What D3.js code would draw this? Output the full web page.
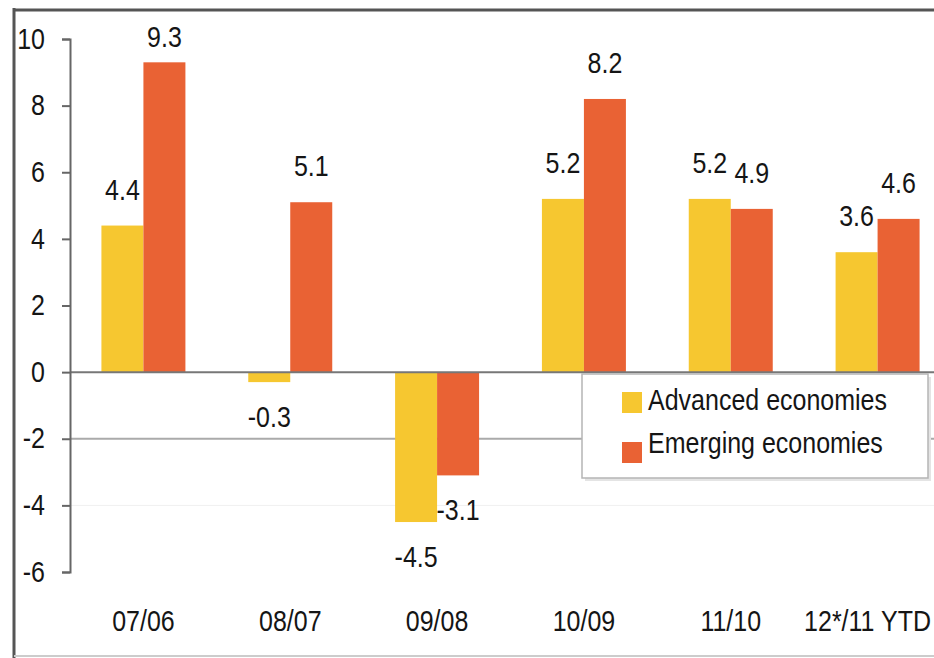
<!DOCTYPE html>
<html>
<head>
<meta charset="utf-8">
<script src="https://cdn.jsdelivr.net/npm/d3@7"></script>
<style>
  body { margin: 0; background: #fff; }
  svg { display: block; font-family: "Liberation Sans", Arial, sans-serif; }
</style>
</head>
<body>
<svg width="934" height="658"></svg>
<script>
// data
var categories = ["07/06", "08/07", "09/08", "10/09", "11/10", "12*/11 YTD"];
var seriesNames = ["Advanced economies", "Emerging economies"];
var advanced = [4.4, -0.3, -4.5, 5.2, 5.2, 3.6];
var emerging = [9.3, 5.1, -3.1, 8.2, 4.9, 4.6];
var yTicks = [-6, -4, -2, 0, 2, 4, 6, 8, 10];

var colors = ["#f6c730", "#e96234"];
var stretch = 1.15; // text in the source is a bit taller than wide

var svg = d3.select("svg"),
    width = +svg.attr("width"),
    height = +svg.attr("height");

var x = d3.scaleBand()
    .domain(categories)
    .range([70, 951])
    .paddingInner(0.428)
    .paddingOuter(0.214);

var x1 = d3.scaleBand()
    .domain(seriesNames)
    .range([0, x.bandwidth()]);

var y = d3.scaleLinear()
    .domain([-6, 10])
    .range([572, 39]);

function label(g, txt, px, py, anchor) {
    return g.append("text")
        .attr("transform", "translate(" + px + "," + py + ") scale(1," + stretch + ")")
        .attr("text-anchor", anchor || "middle")
        .style("font-size", "25px")
        .style("fill", "#151515")
        .text(txt);
}

// frame
svg.append("line").attr("x1", 14).attr("x2", 14).attr("y1", 8).attr("y2", height)
    .style("stroke", "#555").style("stroke-width", 3);
svg.append("line").attr("x1", 13).attr("x2", width).attr("y1", 10).attr("y2", 10)
    .style("stroke", "#555").style("stroke-width", 3);
svg.append("line").attr("x1", 14).attr("x2", width).attr("y1", 656).attr("y2", 656)
    .style("stroke", "#ccc").style("stroke-width", 2);

// grid lines
svg.append("line").attr("x1", 70).attr("x2", width).attr("y1", y(-2)).attr("y2", y(-2))
    .style("stroke", "#aaa").style("stroke-width", 2);
svg.append("line").attr("x1", 70).attr("x2", width).attr("y1", y(-4)).attr("y2", y(-4))
    .style("stroke", "#f0f0f0").style("stroke-width", 1);

// bars
var rows = categories.map(function(c, i) {
    return { cat: c, vals: [advanced[i], emerging[i]] };
});

var groups = svg.append("g").selectAll("g")
    .data(rows)
    .enter().append("g")
    .attr("transform", (d) => "translate(" + x(d.cat) + ",0)");

groups.selectAll("rect")
    .data((d) => d.vals.map((v, k) => ({ key: seriesNames[k], v: v, k: k })))
    .enter().append("rect")
    .attr("x", (d) => x1(d.key))
    .attr("width", x1.bandwidth())
    .attr("y", (d) => y(Math.max(0, d.v)))
    .attr("height", (d) => Math.abs(y(d.v) - y(0)))
    .attr("fill", (d) => colors[d.k]);

// zero line
svg.append("line").attr("x1", 70).attr("x2", width).attr("y1", y(0)).attr("y2", y(0))
    .style("stroke", "#777").style("stroke-width", 2);

// value labels
var vl = svg.append("g");
rows.forEach(function(r) {
    r.vals.forEach(function(v, k) {
        var cx = x(r.cat) + x1(seriesNames[k]) + x1.bandwidth() / 2;
        var py = v >= 0 ? Math.max(y(v) - 26, 47) : y(v) + 45;
        label(vl, v.toFixed(1), cx, py);
    });
});

// y axis
var yAxis = svg.append("g")
    .attr("transform", "translate(70,0)")
    .call(d3.axisLeft(y).tickValues(yTicks).tickSize(8).tickPadding(17)
        .tickFormat((d) => String(d)));
yAxis.select(".domain").style("stroke", "#666").style("stroke-width", 2);
yAxis.selectAll(".tick line").style("stroke", "#666").style("stroke-width", 2);
yAxis.selectAll(".tick text")
    .attr("transform", "scale(1," + stretch + ")")
    .style("font-size", "25px")
    .style("font-family", "Liberation Sans, Arial, sans-serif")
    .style("fill", "#151515");

// x labels (keep the last one inside the window)
var xl = svg.append("g");
categories.forEach(function(c) {
    var t = label(xl, c, 0, 631);
    var half = t.node().getComputedTextLength() / 2;
    var cx = Math.min(x(c) + x.bandwidth() / 2, width - half - 3);
    t.attr("transform", "translate(" + cx + ",631) scale(1," + stretch + ")");
});

// legend
var lg = svg.append("g").attr("transform", "translate(582,374)");
lg.append("rect").attr("x", 3).attr("y", 3).attr("width", 346).attr("height", 104)
    .attr("fill", "#e4e4e4");
lg.append("rect").attr("width", 346).attr("height", 104)
    .attr("fill", "#fff").style("stroke", "#b5b5b5").style("stroke-width", 1.5);
seriesNames.forEach(function(s, k) {
    lg.append("rect")
        .attr("x", 40).attr("y", 18 + k * 50)
        .attr("width", 20).attr("height", 21)
        .attr("fill", colors[k]);
    label(lg, s, 66, 36 + k * 43, "start");
});
</script>
</body>
</html>
